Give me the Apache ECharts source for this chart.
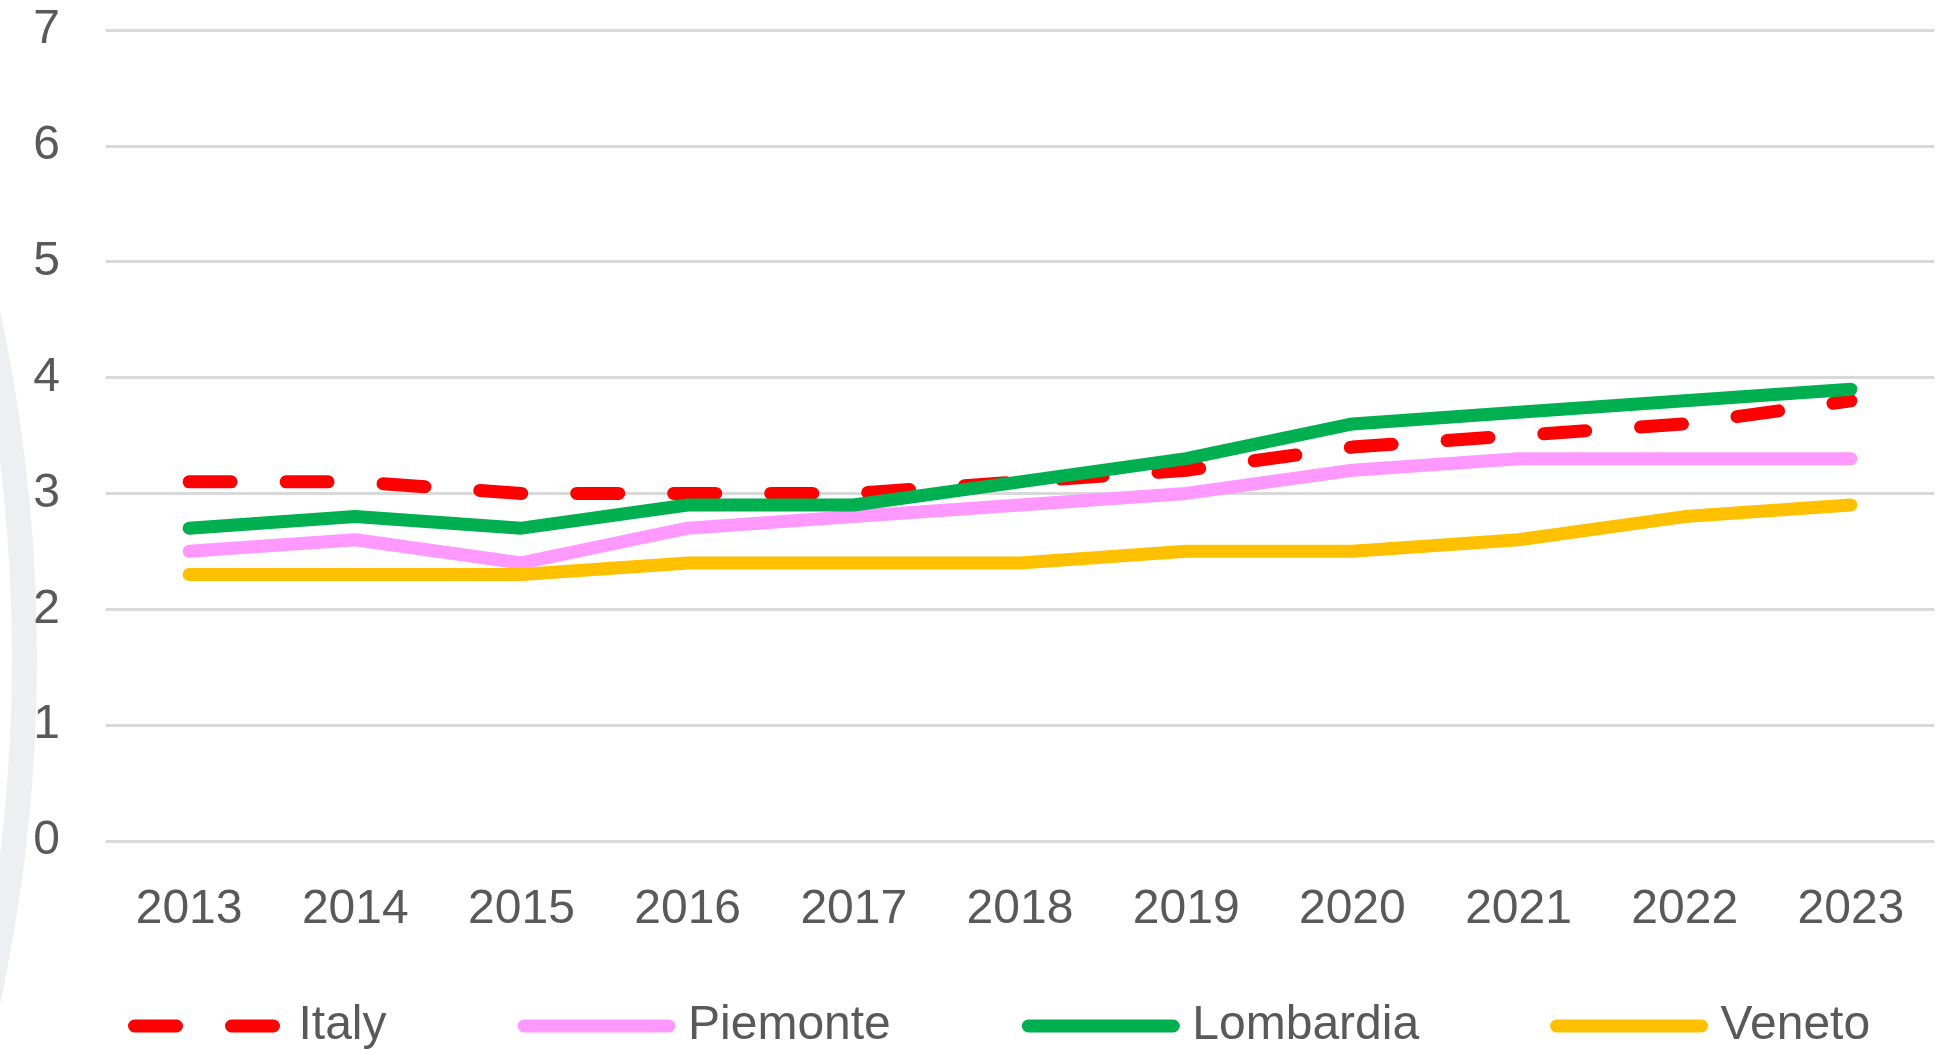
<!DOCTYPE html>
<html>
<head>
<meta charset="utf-8">
<script src="https://cdn.jsdelivr.net/npm/echarts@6/dist/echarts.min.js"></script>
<style>
html,body{margin:0;padding:0;background:#fff;}
#chart{width:1948px;height:1049px;}
</style>
</head>
<body>
<div id="chart"></div>
<script>
const years = ['2013','2014','2015','2016','2017','2018','2019','2020','2021','2022','2023'];
const italy     = [3.1, 3.1, 3.0, 3.0, 3.0, 3.1, 3.2, 3.4, 3.5, 3.6, 3.8];
const piemonte  = [2.5, 2.6, 2.4, 2.7, 2.8, 2.9, 3.0, 3.2, 3.3, 3.3, 3.3];
const lombardia = [2.7, 2.8, 2.7, 2.9, 2.9, 3.1, 3.3, 3.6, 3.7, 3.8, 3.9];
const veneto    = [2.3, 2.3, 2.3, 2.4, 2.4, 2.4, 2.5, 2.5, 2.6, 2.8, 2.9];
const yTicks = [0, 1, 2, 3, 4, 5, 6, 7];

const FONT = '"Liberation Sans", Arial, sans-serif';
const TXT = '#595959';

function lineSeries(name, data, color, dashed) {
  return {
    name: name,
    type: 'line',
    data: data,
    symbol: 'none',
    smooth: false,
    lineStyle: {
      color: color,
      width: 13,
      cap: 'round',
      join: 'round',
      type: dashed ? [42, 55] : 'solid'
    },
    itemStyle: { color: color },
    emphasis: { disabled: true }
  };
}

const chart = echarts.init(document.getElementById('chart'));
chart.setOption({
  backgroundColor: '#ffffff',
  animation: false,
  graphic: [{
    type: 'ring',
    z: -10,
    silent: true,
    shape: { cx: -1608, cy: 658, r: 1645, r0: 1620 },
    style: { fill: '#eeeff2' }
  }],
  grid: { left: 106, right: 14, top: 30, bottom: 208 },
  xAxis: {
    type: 'category',
    data: years,
    boundaryGap: true,
    axisLine: { show: false },
    axisTick: { show: false },
    axisLabel: { color: TXT, fontSize: 48, fontFamily: FONT, margin: 45 }
  },
  yAxis: {
    type: 'value',
    min: yTicks[0],
    max: yTicks[yTicks.length - 1],
    interval: 1,
    axisLine: { show: false },
    axisTick: { show: false },
    axisLabel: { color: TXT, fontSize: 48, fontFamily: FONT, margin: 46 },
    splitLine: { lineStyle: { color: '#d9d9d9', width: 3 } }
  },
  legend: {
    left: 123,
    top: 997,
    itemWidth: 145,
    itemHeight: 14,
    itemGap: 131,
    itemStyle: { opacity: 0 },
    lineStyle: { width: 13 },
    textStyle: { color: TXT, fontSize: 48, fontFamily: FONT, lineHeight: 48, padding: [0, 0, 0, 14] },
    data: ['Italy', 'Piemonte', 'Lombardia', 'Veneto']
  },
  series: [
    lineSeries('Italy', italy, '#ff0000', true),
    lineSeries('Piemonte', piemonte, '#ff99ff', false),
    lineSeries('Lombardia', lombardia, '#00b050', false),
    lineSeries('Veneto', veneto, '#ffc000', false)
  ]
});
</script>
</body>
</html>
